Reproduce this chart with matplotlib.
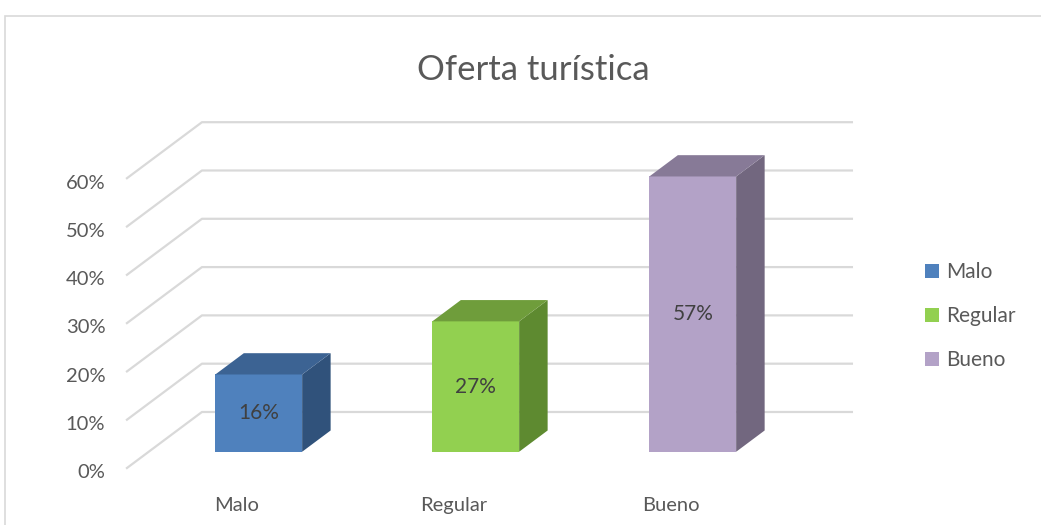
import matplotlib.pyplot as plt
from matplotlib.patches import Polygon, Rectangle, Patch
import numpy as np

plt.rcParams['font.family'] = ['Lato', 'DejaVu Sans']

title = 'Oferta turística'
categories = ['Malo', 'Regular', 'Bueno']
values = [16, 27, 57]
labels = ['16%', '27%', '57%']
ticks = [0, 10, 20, 30, 40, 50, 60]
tick_labels = ['0%', '10%', '20%', '30%', '40%', '50%', '60%']

front_colors = ['#4f81bd', '#92d050', '#b3a2c7']
top_colors = ['#3c6393', '#6f9d3b', '#877a97']
side_colors = ['#30527b', '#5e8a30', '#72677f']
text_color = '#595959'
grid_color = '#d9d9d9'

# fake 3d: a full step back in depth moves a point by (DX, DY) in data units
DX, DY = 0.3456, 11.6
bar_front = 0.29      # depth of the bars' front face
bar_depth = 0.38      # how deep the bars are
bar_w = 0.4
x_left, x_right = -0.507, 2.488

fig = plt.figure(figsize=(10.41, 5.25), dpi=100)
ax = fig.add_axes([0, 0, 1, 1])
ax.set_xlim(-1.092, 3.705)
ax.set_ylim(-11.8, 96.9)
ax.axis('off')

# chart border
fig.patches.append(Rectangle((5 / 1041, -0.1), 1.2, 1.1 - 16 / 525,
                             transform=fig.transFigure, fill=False,
                             edgecolor=grid_color, linewidth=1.2))

# gridlines: side wall slant + back wall line
for t in ticks:
    ax.plot([x_left, x_left + DX, x_right + DX], [t, t + DY, t + DY],
            color=grid_color, linewidth=1.6, zorder=1)

for t, tl in zip(ticks, tick_labels):
    ax.text(x_left - 0.1, t - 1.0, tl, ha='right', va='center',
            fontsize=14.5, color=text_color)

x = np.arange(len(categories))
fx = x + bar_front * DX
fy = bar_front * DY
ddx = bar_depth * DX
ddy = bar_depth * DY

ax.bar(fx, values, width=bar_w, bottom=fy, color=front_colors, zorder=3)
for i, v in enumerate(values):
    l = fx[i] - bar_w / 2
    r = fx[i] + bar_w / 2
    b = fy
    t = fy + v
    ax.add_patch(Polygon([(r, b), (r + ddx, b + ddy), (r + ddx, t + ddy), (r, t)],
                         closed=True, facecolor=side_colors[i], edgecolor='none', zorder=3))
    ax.add_patch(Polygon([(l, t), (r, t), (r + ddx, t + ddy), (l + ddx, t + ddy)],
                         closed=True, facecolor=top_colors[i], edgecolor='none', zorder=3))
    ax.text(fx[i], fy + v / 2, labels[i], ha='center', va='center',
            fontsize=15, color='#404040', zorder=4)
    ax.text(x[i], -7.7, categories[i], ha='center', va='center',
            fontsize=14.5, color=text_color)

fig.text(0.512, 0.867, title, ha='center', va='center', fontsize=25, color=text_color)

handles = [Patch(facecolor=c, edgecolor='none', label=n)
           for c, n in zip(front_colors, categories)]
fig.legend(handles=handles, loc='center left', bbox_to_anchor=(0.896, 0.398),
           frameon=False, fontsize=15, labelcolor=text_color,
           handlelength=0.65, handleheight=0.65, handletextpad=0.35,
           labelspacing=1.15, borderaxespad=0, borderpad=0, handler_map=None)
fig.legends[0].set_bbox_to_anchor((0.889, 0.398), transform=fig.transFigure)

fig.savefig('out.png', dpi=100)
